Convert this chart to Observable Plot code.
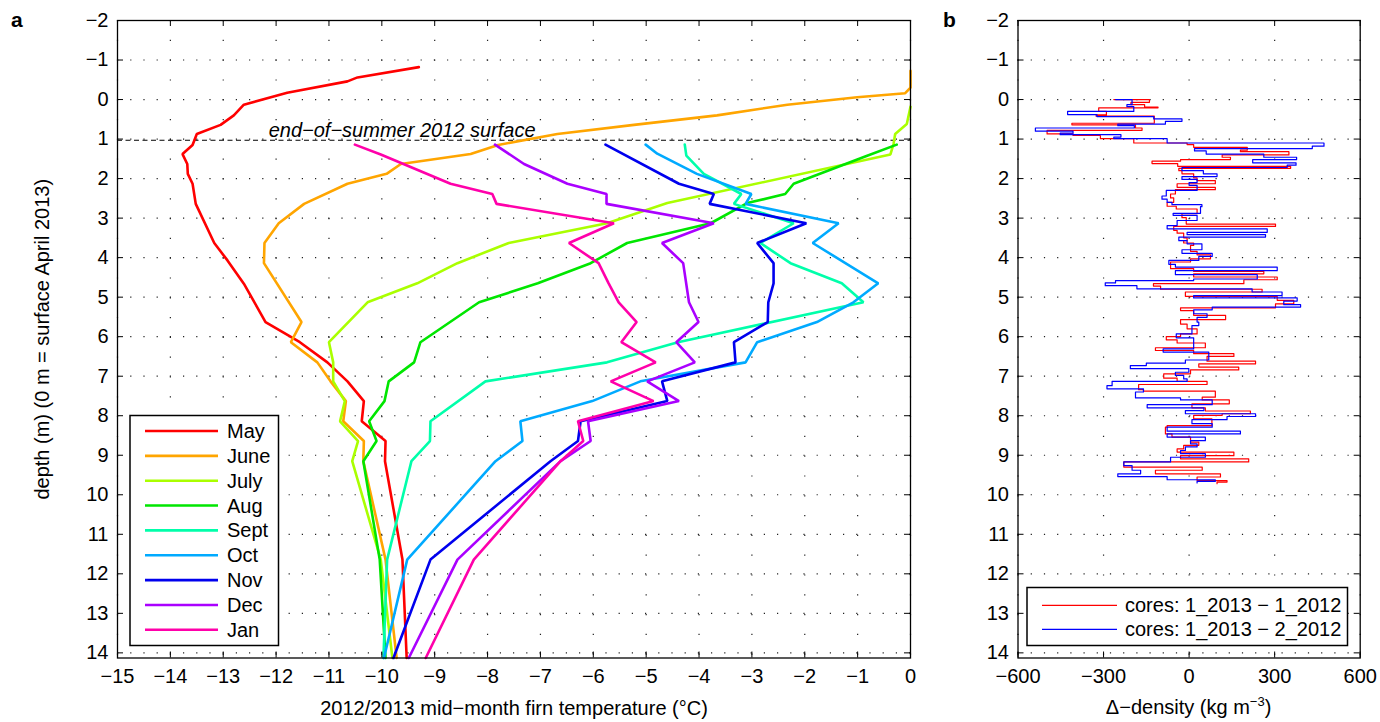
<!DOCTYPE html>
<html>
<head>
<meta charset="utf-8">
<script src="https://cdn.jsdelivr.net/npm/d3@7"></script>
<script src="https://cdn.jsdelivr.net/npm/@observablehq/plot@0.6"></script>
<style>
  body { margin: 0; background: #fff; }
  #chart { position: relative; width: 1380px; height: 722px; font-family: "Liberation Sans", Arial, Helvetica, sans-serif; color: #000; }
  #chart > svg, #chart > div { position: absolute; top: 0; }
  .title { position: absolute; font-size: 20px; white-space: nowrap; }
  .panel-label { position: absolute; font-size: 21px; font-weight: bold; }
</style>
</head>
<body>
<div id="chart"></div>
<script>
// ---- Panel a: mid-month firn temperature profiles, [depth (m), temperature (°C)] ----
const months = ["May", "June", "July", "Aug", "Sept", "Oct", "Nov", "Dec", "Jan"];
const monthColors = ["#ff0000", "#ffa500", "#aaff00", "#00e600", "#00ffaa", "#00aaff", "#0000ee", "#aa00ff", "#ff00aa"];

const tempMay = [[-0.82,-9.30],[-0.56,-10.46],[-0.46,-10.65],[-0.17,-11.79],[0.13,-12.61],[0.40,-12.80],[0.64,-13.05],[0.87,-13.50],[1.15,-13.58],[1.38,-13.77],[1.63,-13.68],[1.88,-13.67],[2.13,-13.58],[2.64,-13.52],[3.63,-13.17],[4.07,-12.92],[4.66,-12.61],[5.63,-12.20],[6.14,-11.55],[6.65,-11.03],[7.13,-10.65],[7.63,-10.34],[8.14,-10.38],[8.64,-9.93],[9.15,-9.94],[11.64,-9.61],[14.13,-9.53]];
const tempJune = [[-0.73,0.0],[-0.30,0.0],[-0.16,-0.10],[-0.06,-1.01],[0.13,-2.33],[0.40,-3.66],[0.64,-5.23],[0.87,-6.68],[1.15,-7.80],[1.38,-8.32],[1.63,-9.64],[1.88,-9.91],[2.13,-10.65],[2.64,-11.47],[3.13,-11.95],[3.63,-12.22],[4.14,-12.23],[5.63,-11.52],[6.14,-11.72],[6.65,-11.22],[7.13,-10.97],[7.63,-10.68],[8.14,-10.73],[8.64,-10.34],[9.15,-10.35],[11.64,-9.93],[14.13,-9.72]];
const tempJuly = [[0.18,0.0],[0.62,-0.07],[0.87,-0.29],[1.12,-0.32],[1.39,-0.38],[2.62,-4.60],[3.13,-5.74],[3.63,-7.60],[4.14,-8.57],[4.65,-9.33],[5.13,-10.27],[6.14,-11.00],[6.65,-10.92],[7.13,-10.92],[7.63,-10.70],[8.14,-10.79],[8.64,-10.45],[9.15,-10.56],[11.64,-10.02],[14.13,-9.80]];
const tempAug = [[1.14,-0.26],[1.42,-0.82],[2.13,-2.21],[2.39,-2.37],[2.62,-3.09],[3.13,-3.78],[3.63,-5.36],[4.14,-6.05],[4.65,-7.05],[5.13,-8.16],[6.14,-9.27],[6.65,-9.39],[7.13,-9.87],[7.63,-9.95],[8.14,-10.24],[8.64,-10.10],[9.15,-10.35],[11.64,-10.04],[14.13,-9.93]];
const tempSept = [[1.14,-4.27],[1.42,-4.24],[1.88,-3.91],[2.39,-3.20],[2.64,-3.34],[3.13,-2.21],[3.63,-2.84],[4.14,-2.27],[4.65,-1.30],[5.13,-0.89],[6.14,-4.40],[6.65,-5.74],[7.13,-8.04],[8.14,-9.08],[8.64,-9.09],[9.15,-9.44],[11.64,-9.90],[14.13,-9.97]];
const tempOct = [[1.14,-5.01],[1.37,-4.79],[1.88,-4.04],[2.39,-3.01],[2.64,-3.12],[3.13,-1.36],[3.63,-1.85],[4.65,-0.61],[5.13,-1.08],[5.63,-1.77],[6.14,-2.90],[6.65,-3.12],[7.13,-5.11],[7.63,-6.02],[8.14,-7.38],[8.64,-7.34],[9.15,-7.85],[11.64,-9.52],[14.13,-9.96]];
const tempNov = [[1.14,-5.77],[2.13,-4.38],[2.39,-3.72],[2.64,-3.80],[3.13,-1.97],[3.63,-2.90],[4.14,-2.59],[4.65,-2.59],[5.13,-2.69],[5.63,-2.70],[6.14,-3.34],[6.65,-3.31],[7.13,-4.70],[7.63,-4.60],[8.14,-6.24],[8.64,-6.29],[9.15,-6.81],[11.64,-9.08],[14.13,-9.78]];
const tempDec = [[1.14,-7.86],[1.63,-7.31],[2.13,-6.49],[2.39,-5.75],[2.64,-5.75],[3.13,-3.72],[3.63,-4.70],[4.14,-4.30],[5.13,-4.19],[5.63,-4.01],[6.14,-4.43],[6.65,-4.08],[7.13,-4.98],[7.63,-4.38],[8.14,-6.10],[8.64,-6.05],[9.15,-6.62],[11.64,-8.57],[14.13,-9.49]];
const tempJan = [[1.14,-10.51],[1.39,-10.02],[2.13,-8.70],[2.39,-7.91],[2.64,-7.83],[3.13,-5.61],[3.63,-6.46],[4.14,-5.90],[4.65,-5.71],[5.13,-5.52],[5.63,-5.18],[6.14,-5.47],[6.65,-4.82],[7.13,-5.67],[7.63,-4.86],[8.14,-6.29],[8.64,-6.19],[9.15,-6.62],[11.64,-8.26],[14.13,-9.17]];

const surfaceDepth = 1.03;                       // end-of-summer 2012 surface
const surfaceText = "end\u2212of\u2212summer 2012 surface";

// ---- Panel b: density difference between cores, [depth (m), Δ-density (kg m-3)] ----
const pairNames = ["cores: 1_2013 \u2212 1_2012", "cores: 1_2013 \u2212 2_2012"];
const pairColors = ["#ff0000", "#0000ff"];

const deltaCore1 = [[0.00,-264],[0.00,-139],[0.07,-204],[0.13,-156],[0.19,-109],[0.21,-317],[0.30,-290],[0.39,-326],[0.42,-122],[0.60,-411],[0.64,-188],[0.72,-165],[0.78,-498],[0.87,-407],[0.91,-311],[0.99,-194],[1.10,-7],[1.14,16],[1.21,204],[1.28,180],[1.32,350],[1.40,116],[1.46,145],[1.52,-30],[1.56,-130],[1.62,-40],[1.69,356],[1.74,-36],[1.80,-25],[1.88,16],[1.98,28],[2.05,92],[2.13,-42],[2.22,92],[2.28,-48],[2.39,-65],[2.49,-54],[2.60,-77],[2.70,-45],[2.77,28],[2.89,-25],[2.99,-10],[3.15,303],[3.21,-54],[3.31,-42],[3.38,-19],[3.50,-7],[3.57,-19],[3.63,16],[3.69,5],[3.84,28],[3.93,75],[4.03,5],[4.11,-65],[4.28,16],[4.35,262],[4.41,16],[4.49,309],[4.56,192],[4.66,-125],[4.72,-100],[4.80,256],[4.87,-13],[4.98,309],[5.08,367],[5.17,303],[5.27,-30],[5.34,16],[5.46,128],[5.57,-30],[5.68,-7],[5.80,28],[5.93,-30],[6.00,-80],[6.08,-42],[6.16,57],[6.28,-118],[6.35,16],[6.43,157],[6.50,63],[6.62,233],[6.69,34],[6.77,174],[6.84,5],[6.94,-89],[7.05,-42],[7.13,63],[7.21,-177],[7.34,-160],[7.38,92],[7.53,46],[7.60,141],[7.70,10],[7.80,57],[7.88,215],[7.95,116],[7.99,16],[8.08,80],[8.25,-77],[8.29,-83],[8.46,-60],[8.54,5],[8.67,34],[8.75,-19],[8.84,-42],[8.92,157],[9.01,-30],[9.09,209],[9.17,-229],[9.30,46],[9.38,-118],[9.47,110],[9.55,28],[9.64,133],[9.68,98],[9.72,98]];
const deltaCore2 = [[0.00,-258],[0.00,-200],[0.13,-218],[0.18,-194],[0.30,-426],[0.38,-323],[0.43,-124],[0.49,-25],[0.55,-83],[0.62,-250],[0.66,-192],[0.72,-539],[0.80,-407],[0.85,-452],[0.89,-239],[0.95,-264],[0.99,-77],[1.10,473],[1.18,432],[1.24,19],[1.30,60],[1.38,262],[1.46,377],[1.52,223],[1.60,375],[1.66,344],[1.72,-25],[1.80,50],[1.88,98],[1.95,-25],[2.02,28],[2.10,0],[2.17,28],[2.25,28],[2.30,-80],[2.44,-95],[2.52,-77],[2.60,-60],[2.66,45],[2.71,40],[2.88,-56],[2.93,28],[3.06,-42],[3.19,-77],[3.27,274],[3.36,-7],[3.42,268],[3.48,-36],[3.57,-7],[3.65,45],[3.80,-25],[3.89,81],[3.97,34],[4.07,-71],[4.17,-48],[4.24,309],[4.33,-48],[4.43,239],[4.54,16],[4.58,-258],[4.64,-294],[4.71,-183],[4.79,221],[4.87,326],[4.96,16],[5.02,379],[5.10,332],[5.19,391],[5.25,81],[5.32,16],[5.42,63],[5.51,28],[5.63,34],[5.72,10],[5.93,-45],[6.03,16],[6.11,16],[6.31,-91],[6.39,69],[6.59,-13],[6.67,-150],[6.73,-206],[6.81,-1],[6.90,-48],[6.98,-19],[7.07,-7],[7.13,-270],[7.24,-288],[7.32,-160],[7.40,-188],[7.55,-30],[7.60,81],[7.72,-147],[7.80,52],[7.87,-13],[7.95,233],[8.02,133],[8.10,10],[8.20,81],[8.29,-77],[8.39,180],[8.46,-77],[8.54,57],[8.63,5],[8.71,28],[8.79,-13],[8.88,-30],[8.96,57],[9.05,-65],[9.17,-229],[9.26,-200],[9.38,-170],[9.47,-250],[9.54,-77],[9.62,92],[9.66,28],[9.70,28]];

// ---- Axes ----
const depthDomain = [-2, 14.13];
const depthTicks = d3.range(-2, 15);
const tempTicks = d3.range(-15, 1);
const deltaTicks = [-600, -300, 0, 300, 600];
const tempTitle = "2012/2013 mid\u2212month firn temperature (\u00b0C)";
const depthTitle = "depth (m) (0 m = surface April 2013)";

// ---- Build tables ----
const tempSeries = [tempMay, tempJune, tempJuly, tempAug, tempSept, tempOct, tempNov, tempDec, tempJan];
const profiles = months.flatMap((m, i) => tempSeries[i].map(([depth, temp]) => ({month: m, depth, temp})));
const deltaSeries = [deltaCore1, deltaCore2];
const deltas = pairNames.flatMap((p, i) => deltaSeries[i].map(([depth, delta]) => ({pair: p, depth, delta})));

// ---- Layout ----
const W = 1380, H = 722, TOP = 20, BOTTOM = 657.5;
const FONT = "'Liberation Sans', Arial, Helvetica, sans-serif";
const minus = d => d < 0 ? "\u2212" + Math.abs(d) : String(d);
const TICK = 6;
const TICK_FONT = "20px";
const TITLE_SIZE = 20;

function boxTicks(xt, yt, frameW) {
  const fh = BOTTOM - TOP;
  return [
    Plot.tickX(xt, {x: d => d, insetTop: fh - TICK, stroke: "#000"}),
    Plot.tickX(xt, {x: d => d, insetBottom: fh - TICK, stroke: "#000"}),
    Plot.tickY(yt, {y: d => d, insetRight: frameW - TICK, stroke: "#000"}),
    Plot.tickY(yt, {y: d => d, insetLeft: frameW - TICK, stroke: "#000"})
  ];
}

function grids(xt, yt) {
  return [
    Plot.gridX(xt, {stroke: "#222", strokeOpacity: 1, strokeWidth: 1.2, strokeDasharray: "1.2,18.6"}),
    Plot.gridY(yt, {stroke: "#222", strokeOpacity: 1, strokeWidth: 1.2, strokeDasharray: "1.2,12"})
  ];
}

const chart = document.getElementById("chart");

// Panel a
const aLeft = 117, aRight = 910;
const plotA = Plot.plot({
  width: 940, height: H,
  marginLeft: aLeft, marginRight: 940 - aRight, marginTop: TOP, marginBottom: H - BOTTOM,
  style: {fontFamily: FONT, fontSize: TICK_FONT, background: "transparent", overflow: "visible", color: "#000"},
  x: {domain: [-15, 0]},
  y: {domain: depthDomain, reverse: true},
  color: {domain: months, range: monthColors},
  marks: [
    ...grids(tempTicks, depthTicks),
    Plot.ruleY([surfaceDepth], {stroke: "#000", strokeWidth: 1, strokeDasharray: "5,3.5"}),
    Plot.text([surfaceText], {x: -12.14, y: surfaceDepth, text: d => d, textAnchor: "start", lineAnchor: "bottom", dy: -3, fontStyle: "italic", fontSize: 20}),
    Plot.line(profiles, {x: "temp", y: "depth", z: "month", stroke: "month", strokeWidth: 2.6, strokeLinejoin: "miter"}),
    Plot.frame({stroke: "#000", strokeWidth: 1.3}),
    ...boxTicks(tempTicks, depthTicks, aRight - aLeft),
    Plot.axisX(tempTicks, {tickSize: 0, tickPadding: 11, tickFormat: minus, label: null}),
    Plot.axisY(depthTicks, {tickSize: 0, tickPadding: 9, tickFormat: minus, label: null}),
    Plot.text([tempTitle], {frameAnchor: "bottom", dy: 51, text: d => d, lineAnchor: "middle", fontSize: TITLE_SIZE}),
    Plot.text([depthTitle], {frameAnchor: "left", dx: -75, rotate: -90, text: d => d, textAnchor: "middle", lineAnchor: "middle", fontSize: TITLE_SIZE})
  ]
});
plotA.style.left = "0px";
chart.appendChild(plotA);

// Panel b
const bOffset = 940, bLeft = 1017.5, bRight = 1359.7;
const plotB = Plot.plot({
  width: W - bOffset, height: H,
  marginLeft: bLeft - bOffset, marginRight: W - bRight, marginTop: TOP, marginBottom: H - BOTTOM,
  style: {fontFamily: FONT, fontSize: TICK_FONT, background: "transparent", overflow: "visible", color: "#000"},
  x: {domain: [-600, 600]},
  y: {domain: depthDomain, reverse: true},
  color: {domain: pairNames, range: pairColors},
  marks: [
    ...grids(deltaTicks, depthTicks),
    Plot.line(deltas, {x: "delta", y: "depth", z: "pair", stroke: "pair", strokeWidth: 1.2, curve: "step-before"}),
    Plot.frame({stroke: "#000", strokeWidth: 1.3}),
    ...boxTicks(deltaTicks, depthTicks, bRight - bLeft),
    Plot.axisX(deltaTicks, {tickSize: 0, tickPadding: 11, tickFormat: minus, label: null}),
    Plot.axisY(depthTicks, {tickSize: 0, tickPadding: 9, tickFormat: minus, label: null})
  ]
});
plotB.style.left = bOffset + "px";
chart.appendChild(plotB);

// Axis title of panel b (with superscript) and panel letters
const bTitle = document.createElement("div");
bTitle.className = "title";
bTitle.innerHTML = "\u0394\u2212density (kg m<sup style='font-size:13px;vertical-align:8px;line-height:0'>\u22123</sup>)";
bTitle.style.left = ((bLeft + bRight) / 2) + "px";
bTitle.style.top = "696px";
bTitle.style.transform = "translateX(-50%)";
chart.appendChild(bTitle);

for (const [t, x] of [["a", 11], ["b", 943]]) {
  const el = document.createElement("div");
  el.className = "panel-label";
  el.textContent = t;
  el.style.left = x + "px";
  el.style.top = "8px";
  chart.appendChild(el);
}

// ---- Legends ----
const overlay = d3.select(chart).append("svg")
  .attr("width", W).attr("height", H)
  .style("left", "0px").style("pointer-events", "none")
  .style("font-family", FONT).style("font-size", "20px");

function drawLegend(box, names, colors, {lineX0, lineX1, textX, rowY0, rowStep, sw}) {
  const g = overlay.append("g");
  g.append("rect").attr("x", box.x).attr("y", box.y).attr("width", box.w).attr("height", box.h)
    .attr("fill", "#fff").attr("stroke", "#000").attr("stroke-width", 1.5);
  names.forEach((n, i) => {
    const y = rowY0 + i * rowStep;
    g.append("line").attr("x1", lineX0).attr("x2", lineX1).attr("y1", y).attr("y2", y)
      .attr("stroke", colors[i]).attr("stroke-width", sw);
    g.append("text").attr("x", textX).attr("y", y).attr("dy", "0.35em").text(n);
  });
}

drawLegend({x: 130, y: 415.5, w: 148.5, h: 230}, months, monthColors,
  {lineX0: 145, lineX1: 218, textX: 227, rowY0: 431, rowStep: 24.85, sw: 2.6});
drawLegend({x: 1027, y: 587.5, w: 320.5, h: 58}, pairNames, pairColors,
  {lineX0: 1042, lineX1: 1117, textX: 1125, rowY0: 605.3, rowStep: 24, sw: 1.2});
</script>
</body>
</html>
